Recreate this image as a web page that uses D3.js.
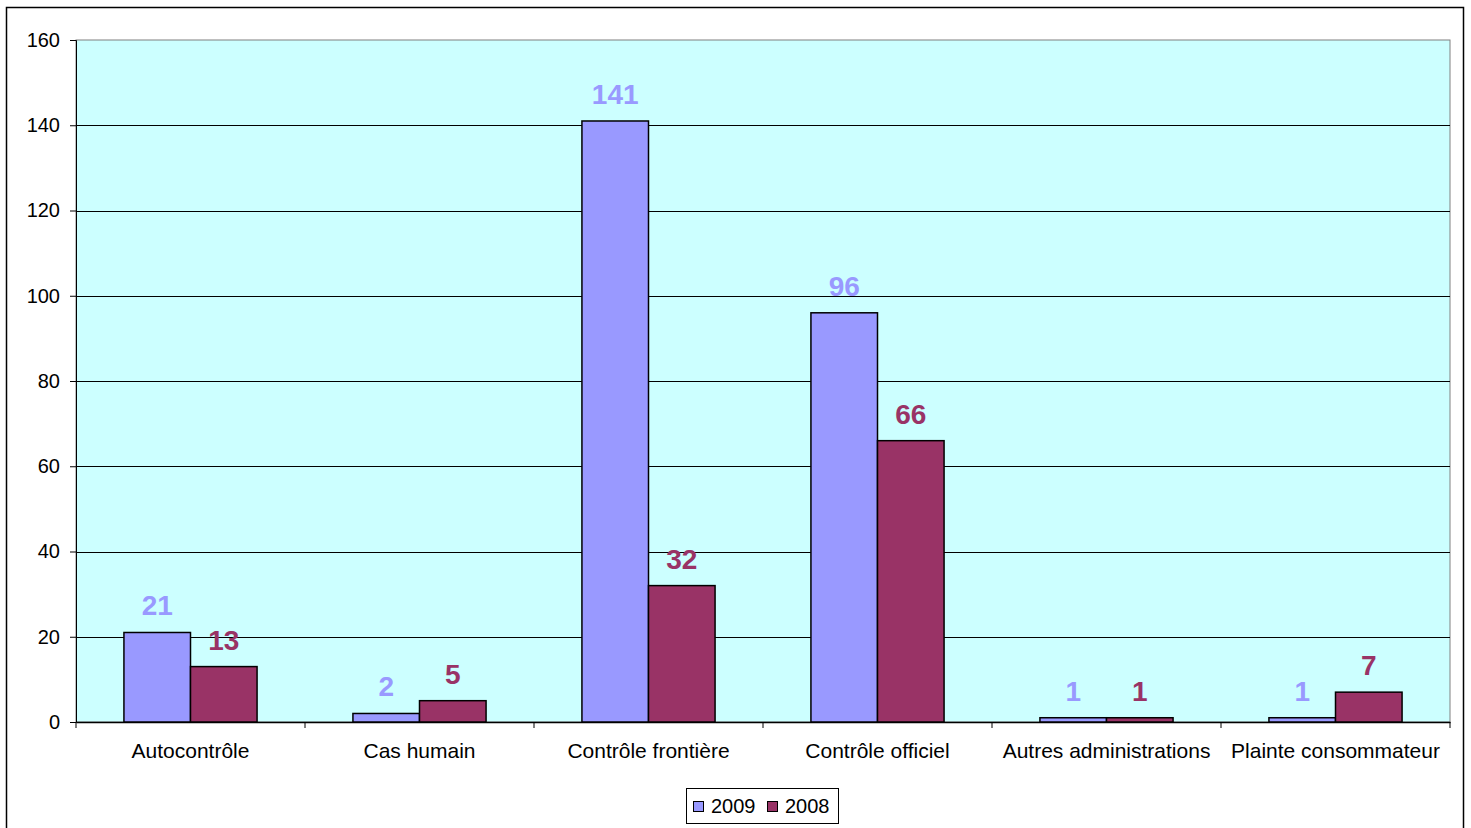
<!DOCTYPE html>
<html>
<head>
<meta charset="utf-8">
<script src="https://cdn.jsdelivr.net/npm/d3@7"></script>
<style>
  html, body { margin: 0; padding: 0; background: #fff; }
  svg { display: block; font-family: "Liberation Sans", Arial, sans-serif; }
</style>
</head>
<body>
<svg id="chart" width="1471" height="828"></svg>
<script>
// Categories and yearly counts
const categories = ["Autocontrôle", "Cas humain", "Contrôle frontière", "Contrôle officiel", "Autres administrations", "Plainte consommateur"];
const series = ["2009", "2008"];
const values2009 = [21, 2, 141, 96, 1, 1];
const values2008 = [13, 5, 32, 66, 1, 7];
const yTicks = [0, 20, 40, 60, 80, 100, 120, 140, 160];
const colors = { "2009": "#9999FF", "2008": "#993366" };

const svg = d3.select("#chart");
const plot = { left: 76, top: 40, right: 1450, bottom: 722 };

// Outer frame
svg.append("rect")
  .attr("x", 6.5).attr("y", 7.5)
  .attr("width", 1457).attr("height", 830)
  .attr("fill", "#fff").attr("stroke", "#000").attr("stroke-width", 1.5);

const x0 = d3.scaleBand().domain(categories).range([plot.left, plot.right]).paddingInner(0).paddingOuter(0);
const x1 = d3.scaleBand().domain(series).range([0, x0.bandwidth()]).paddingOuter(0.72).paddingInner(0);
const y = d3.scaleLinear().domain([0, 160]).range([plot.bottom, plot.top]);

// Plot background
svg.append("rect")
  .attr("x", plot.left).attr("y", plot.top)
  .attr("width", plot.right - plot.left).attr("height", plot.bottom - plot.top)
  .attr("fill", "#CCFFFF").attr("stroke", "#808080").attr("stroke-width", 1);

// Gridlines
svg.append("g").selectAll("line")
  .data(yTicks.filter(t => t > 0 && t < 160))
  .join("line")
  .attr("x1", plot.left).attr("x2", plot.right)
  .attr("y1", d => Math.round(y(d)) + 0.5).attr("y2", d => Math.round(y(d)) + 0.5)
  .attr("stroke", "#000").attr("stroke-width", 1);

// Y axis
const yAxis = svg.append("g")
  .attr("transform", `translate(${plot.left},0)`)
  .call(d3.axisLeft(y).tickValues(yTicks).tickSize(6).tickPadding(10).tickFormat(d3.format("d")));
yAxis.select(".domain").attr("stroke", "#000");
yAxis.selectAll(".tick line").attr("stroke", "#000");
yAxis.selectAll("text").attr("font-size", 20).attr("fill", "#000")
  .attr("font-family", "'Liberation Sans', Arial, sans-serif");

// X axis
const xAxis = svg.append("g")
  .attr("transform", `translate(0,${plot.bottom})`)
  .call(d3.axisBottom(x0).tickSize(0).tickPadding(21));
xAxis.select(".domain").attr("stroke", "#000").attr("stroke-width", 1.5);
xAxis.selectAll("text").attr("font-size", 21).attr("fill", "#000")
  .attr("font-family", "'Liberation Sans', Arial, sans-serif");
// Category separator ticks
svg.append("g").selectAll("line")
  .data(d3.range(categories.length + 1))
  .join("line")
  .attr("x1", i => plot.left + i * x0.step())
  .attr("x2", i => plot.left + i * x0.step())
  .attr("y1", plot.bottom).attr("y2", plot.bottom + 6)
  .attr("stroke", "#000");

// Bars
const rows = categories.map((c, i) => ({ cat: c, vals: [{ s: "2009", v: values2009[i] }, { s: "2008", v: values2008[i] }] }));
const groups = svg.append("g").selectAll("g")
  .data(rows).join("g")
  .attr("transform", d => `translate(${x0(d.cat)},0)`);

groups.selectAll("rect")
  .data(d => d.vals).join("rect")
  .attr("x", d => x1(d.s))
  .attr("y", d => y(d.v))
  .attr("width", x1.bandwidth())
  .attr("height", d => y(0) - y(d.v))
  .attr("fill", d => colors[d.s])
  .attr("stroke", "#000").attr("stroke-width", 1.5);

// Value labels
groups.selectAll("text.val")
  .data(d => d.vals).join("text")
  .attr("class", "val")
  .attr("x", d => x1(d.s) + x1.bandwidth() / 2)
  .attr("y", d => y(d.v) - 17)
  .attr("text-anchor", "middle")
  .attr("font-size", 28).attr("font-weight", "bold")
  .attr("fill", d => colors[d.s])
  .text(d => d.v);

// Legend
const legend = svg.append("g").attr("transform", "translate(686,788)");
legend.append("rect").attr("x", 0.5).attr("y", 0.5).attr("width", 152).attr("height", 35)
  .attr("fill", "#fff").attr("stroke", "#000");
const items = [{ s: "2009", x: 7 }, { s: "2008", x: 81 }];
items.forEach(it => {
  legend.append("rect").attr("x", it.x + 0.5).attr("y", 13.5).attr("width", 10).attr("height", 10)
    .attr("fill", colors[it.s]).attr("stroke", "#000");
  legend.append("text").attr("x", it.x + 18).attr("y", 25)
    .attr("font-size", 20).attr("fill", "#000").text(it.s);
});
</script>
</body>
</html>
